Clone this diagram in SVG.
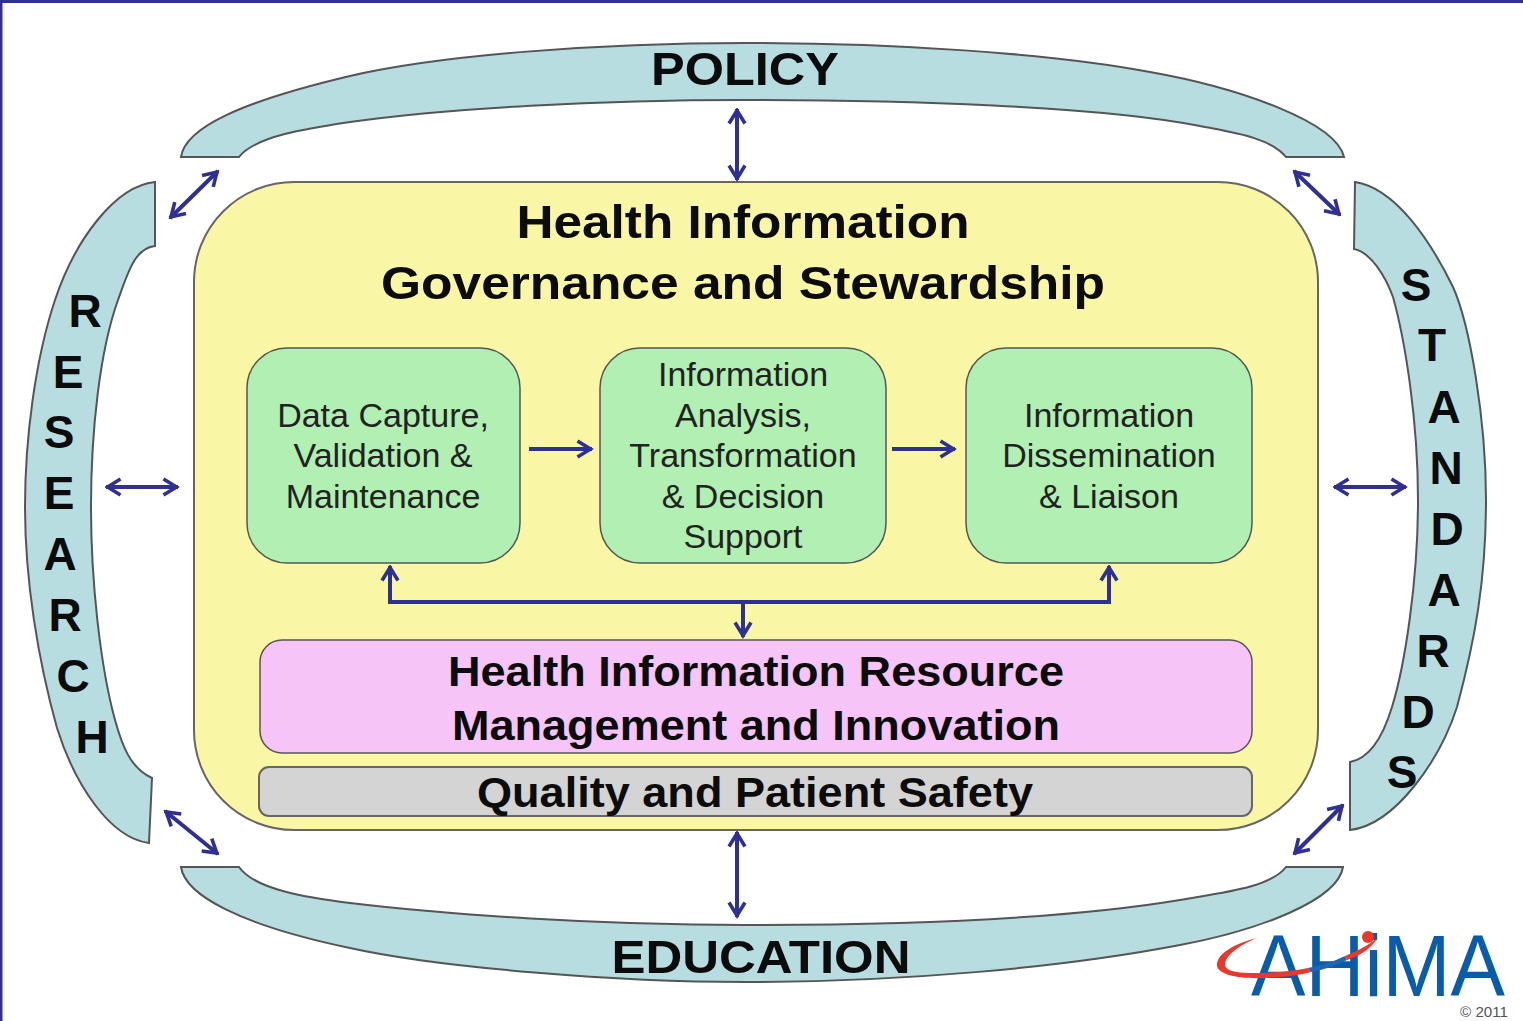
<svg xmlns="http://www.w3.org/2000/svg" width="1523" height="1021" viewBox="0 0 1523 1021">
<style>
text{font-family:"Liberation Sans",Arial,sans-serif;fill:#0c0c0c;text-anchor:middle}
.band{fill:#b7dde1;stroke:#555;stroke-width:2}
.ltr{font-size:46px;font-weight:bold}
.big{font-size:47px;font-weight:bold}
.t1{font-size:47px;font-weight:bold}
.t2{font-size:42px;font-weight:bold}
.g{font-size:34px;fill:#222}
.box{fill:#b1efb3;stroke:#555;stroke-width:1.5}
.con{fill:none;stroke:#2e3192;stroke-width:4}
</style>
<defs>
<marker id="a" viewBox="0 0 18 20" refX="16.500" refY="10" markerWidth="18" markerHeight="20" markerUnits="userSpaceOnUse" orient="auto-start-reverse"><path d="M2 2L15 10L2 18" fill="none" stroke="#2e3192" stroke-width="3.600"/></marker>
</defs>
<rect width="1523" height="1021" fill="#fff"/>
<path d="M0 1.500H1523M1 0V1021" fill="none" stroke="#2e3192" stroke-width="3"/>
<g id="policy">
<path class="band" d="M181 157C185 128 240 102 350 76C440 55 600 43 745 43C890 43 1050 53 1150 72C1240 88 1336 122 1344 157L1286 157C1270 137 1230 132 1200 126C1100 106 900 100 745 100C600 100 450 108 350 122C310 128 255 136 239 157Z"/>
<text class="big" x="745" y="85" textLength="188" lengthAdjust="spacingAndGlyphs">POLICY</text>
</g>
<g id="education">
<path class="band" d="M181 867C185 895 240 925 350 948C440 968 620 982 745 982C900 982 1060 968 1180 945C1260 930 1338 900 1343 867L1286 867C1270 888 1220 893 1180 900C1060 920 900 925 745 925C600 925 450 915 350 903C310 898 255 890 239 867Z"/>
<text class="big" x="761" y="973" textLength="299" lengthAdjust="spacingAndGlyphs">EDUCATION</text>
</g>
<g id="research">
<path class="band" d="M155 182C115 186 75 240 55 300C35 360 25 440 25 507C25 580 38 660 57 728C75 785 110 838 149 843L152 778C130 768 122 745 115 720C100 665 91 580 91 507C91 430 100 350 118 300C128 272 135 248 155 246Z"/>
<text class="ltr" x="85" y="327">R</text><text class="ltr" x="68" y="388">E</text><text class="ltr" x="59" y="448">S</text><text class="ltr" x="59" y="509">E</text><text class="ltr" x="60" y="570">A</text><text class="ltr" x="65" y="631">R</text><text class="ltr" x="73" y="692">C</text><text class="ltr" x="92" y="753">H</text>
</g>
<g id="standards">
<path class="band" d="M1355 182C1395 188 1430 240 1453 287C1470 325 1486 420 1486 500C1486 580 1475 640 1457 707C1440 760 1395 825 1350 830L1350 762C1372 758 1385 730 1392 707C1405 665 1418 580 1418 500C1418 420 1405 340 1393 297C1385 275 1370 252 1354 249Z"/>
<text class="ltr" x="1416" y="301">S</text><text class="ltr" x="1432" y="361">T</text><text class="ltr" x="1444" y="423">A</text><text class="ltr" x="1446" y="484">N</text><text class="ltr" x="1447" y="545">D</text><text class="ltr" x="1444" y="606">A</text><text class="ltr" x="1433" y="667">R</text><text class="ltr" x="1418" y="728">D</text><text class="ltr" x="1402" y="788">S</text>
</g>
<g id="governance">
<rect x="194" y="182" width="1124" height="648" rx="100" ry="100" fill="#f9f7a6" stroke="#666" stroke-width="2"/>
<text class="t1" x="743" y="238" textLength="453" lengthAdjust="spacingAndGlyphs">Health Information</text>
<text class="t1" x="743" y="299" textLength="724" lengthAdjust="spacingAndGlyphs">Governance and Stewardship</text>
</g>
<g id="capture">
<rect class="box" x="247" y="348" width="273" height="215" rx="40"/>
<text class="g" x="383" y="427">Data Capture,</text><text class="g" x="383" y="467">Validation &amp;</text><text class="g" x="383" y="508">Maintenance</text>
</g>
<g id="analysis">
<rect class="box" x="600" y="348" width="286" height="215" rx="40"/>
<text class="g" x="743" y="386">Information</text><text class="g" x="743" y="427">Analysis,</text><text class="g" x="743" y="467">Transformation</text><text class="g" x="743" y="508">&amp; Decision</text><text class="g" x="743" y="548">Support</text>
</g>
<g id="dissemination">
<rect class="box" x="966" y="348" width="286" height="215" rx="40"/>
<text class="g" x="1109" y="427">Information</text><text class="g" x="1109" y="467">Dissemination</text><text class="g" x="1109" y="508">&amp; Liaison</text>
</g>
<g id="resource">
<rect x="260" y="640" width="992" height="113" rx="22" fill="#f6c4f6" stroke="#555" stroke-width="1.5"/>
<text class="t2" x="756" y="686" textLength="616" lengthAdjust="spacingAndGlyphs">Health Information Resource</text><text class="t2" x="756" y="740" textLength="608" lengthAdjust="spacingAndGlyphs">Management and Innovation</text>
</g>
<g id="quality">
<rect x="259" y="767" width="993" height="49" rx="10" fill="#d4d4d4" stroke="#666" stroke-width="2"/>
<text class="t2" x="755" y="807" textLength="556" lengthAdjust="spacingAndGlyphs">Quality and Patient Safety</text>
</g>
<g id="connectors" class="con">
<path d="M737 109V180" marker-start="url(#a)" marker-end="url(#a)"/>
<path d="M737 832V917" marker-start="url(#a)" marker-end="url(#a)"/>
<path d="M106 487H178" marker-start="url(#a)" marker-end="url(#a)"/>
<path d="M1334 487H1406" marker-start="url(#a)" marker-end="url(#a)"/>
<path d="M218 171L170 218" marker-start="url(#a)" marker-end="url(#a)"/>
<path d="M1294 171L1340 215" marker-start="url(#a)" marker-end="url(#a)"/>
<path d="M165 811L218 854" marker-start="url(#a)" marker-end="url(#a)"/>
<path d="M1343 805L1294 854" marker-start="url(#a)" marker-end="url(#a)"/>
<path d="M529 449H592" marker-end="url(#a)"/>
<path d="M892 449H955" marker-end="url(#a)"/>
<path d="M390 566V602H1109V566" marker-start="url(#a)" marker-end="url(#a)"/>
<path d="M743 602V637" marker-end="url(#a)"/>
</g>
<g id="logo">
<text x="1378" y="996" font-size="88" textLength="254" lengthAdjust="spacingAndGlyphs" style="fill:#0a5cab">AHiMA</text>
<path d="M1257 938C1230 945 1217 955 1217 965C1217 975 1240 979 1263 978C1280 978 1300 975 1311 972L1308 968C1290 972 1270 973 1250 973C1235 973 1225 970 1225 965C1225 955 1240 945 1257 938Z" fill="#e8392c"/>
<path d="M1308 968C1320 966 1335 961 1345 956L1347 960C1335 966 1322 970 1311 972Z" fill="#1f66b0"/>
<path d="M1345 956C1355 952 1370 945 1378 937C1372 948 1360 956 1347 960Z" fill="#e8392c"/>
<circle cx="1368" cy="937" r="6" fill="#e8392c"/>
<text x="1484" y="1017" font-size="14" textLength="48" lengthAdjust="spacingAndGlyphs" style="fill:#555">© 2011</text>
</g>
</svg>
